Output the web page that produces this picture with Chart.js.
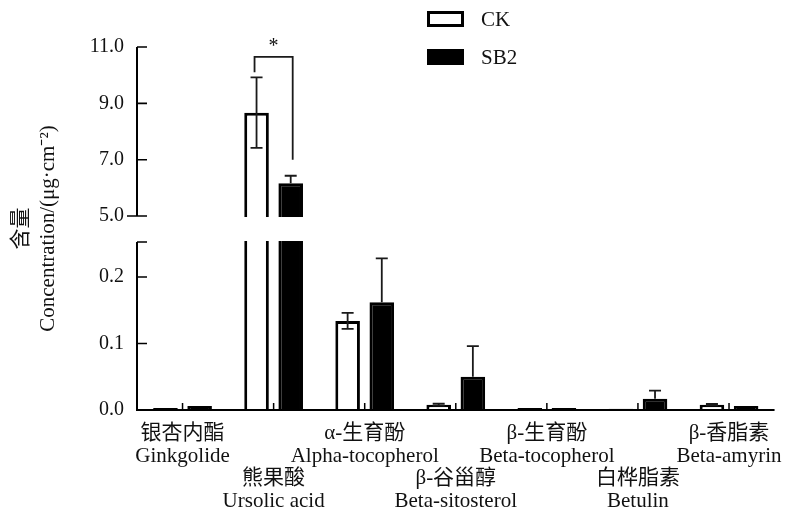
<!DOCTYPE html>
<html>
<head>
<meta charset="utf-8">
<script src="https://cdn.jsdelivr.net/npm/chart.js@4.4.1/dist/chart.umd.min.js"></script>
<style>
  html, body { margin: 0; padding: 0; background: #fff; }
  #wrap { width: 794px; height: 511px; position: relative; }
</style>
</head>
<body>
<div id="wrap"><canvas id="chart"></canvas></div>
<script>
// -------- DATA --------
const categories = [
    ["银杏内酯", "Ginkgolide"],
    ["", "", "熊果酸", "Ursolic acid"],
    ["α-生育酚", "Alpha-tocopherol"],
    ["", "", "β-谷甾醇", "Beta-sitosterol"],
    ["β-生育酚", "Beta-tocopherol"],
    ["", "", "白桦脂素", "Betulin"],
    ["β-香脂素", "Beta-amyrin"]
];
const ckValues = [0.003, 8.67, 0.134, 0.008, 0.003, 0.002, 0.008];
const ckErrors = [0, 1.25, 0.012, 0.0015, 0, 0, 0.001];
const sb2Values = [0.006, 6.16, 0.162, 0.050, 0.003, 0.017, 0.006];
const sb2Errors = [0, 0.27, 0.066, 0.046, 0, 0.012, 0];
const yTicks = [0, 0.1, 0.2, 5, 7, 9, 11];

// axis break: lower part 0..lowMax, upper part highMin..highMax
const lowMax = 0.2526;
const highMin = 5;
const highMax = 11;

// significance bracket (*), on Ursolic acid
const sigIndex = 1;
const sigLabel = "*";
const sigTop = 10.65;
const sigLeftEnd = 10.1;
const sigRightEnd = 7.0;

const FONT = "'Liberation Serif', 'Noto Sans CJK SC', serif";
const INK = "#111";

// -------- BROKEN SCALE --------
// share of plot height used by the lower / upper parts
const LOW_FRAC = 0.4628;
const HIGH_FRAC = 0.4656;

class BrokenScale extends Chart.LinearScale {
    buildTicks() {
        this.min = 0;
        this.max = highMax;
        this.start = 0;
        this.end = highMax;
        return yTicks.map(v => ({ value: v }));
    }
    getPixelForValue(v) {
        const h = this.bottom - this.top;
        const lowTop = this.bottom - LOW_FRAC * h;
        const highBottom = this.top + HIGH_FRAC * h;
        if (v <= lowMax) return this.bottom - (v / lowMax) * (LOW_FRAC * h);
        if (v < highMin) return lowTop - (v - lowMax) / (highMin - lowMax) * (lowTop - highBottom);
        const f = Math.min(1, (v - highMin) / (highMax - highMin));
        return highBottom - f * (HIGH_FRAC * h);
    }
    getValueForPixel(p) {
        const h = this.bottom - this.top;
        const lowTop = this.bottom - LOW_FRAC * h;
        if (p >= lowTop) return (this.bottom - p) / (LOW_FRAC * h) * lowMax;
        return highMin + (this.top + HIGH_FRAC * h - p) / (HIGH_FRAC * h) * (highMax - highMin);
    }
}
BrokenScale.id = "broken";
BrokenScale.defaults = Chart.LinearScale.defaults;
Chart.register(BrokenScale);

// -------- DRAWING EXTRAS --------
const extras = {
    id: "extras",
    afterDatasetsDraw(chart) {
        const ctx = chart.ctx;
        const area = chart.chartArea;
        const y = chart.scales.y;
        const x = chart.scales.x;
        const ax = area.left;

        ctx.save();

        // white gap across the break
        const gTop = y.getPixelForValue(highMin);
        const gBot = y.getPixelForValue(lowMax);
        ctx.fillStyle = "#fff";
        ctx.fillRect(ax + 1, gTop + 1, area.right - ax, gBot - gTop - 2);

        // y axis segments
        ctx.strokeStyle = "#000";
        ctx.lineWidth = 2;
        ctx.beginPath();
        ctx.moveTo(ax, y.getPixelForValue(highMax));
        ctx.lineTo(ax, gTop);
        ctx.moveTo(ax, gBot);
        ctx.lineTo(ax, y.getPixelForValue(0));
        ctx.stroke();

        // inward ticks
        ctx.lineWidth = 1.6;
        ctx.beginPath();
        yTicks.forEach(v => {
            if (v === 0) return;
            const py = y.getPixelForValue(v);
            ctx.moveTo(v === highMin ? ax - 10 : ax, py);
            ctx.lineTo(ax + 10, py);
        });
        ctx.moveTo(ax, gBot);
        ctx.lineTo(ax + 10, gBot);
        ctx.stroke();

        // x baseline
        const base = y.getPixelForValue(0);
        ctx.lineWidth = 2;
        ctx.beginPath();
        ctx.moveTo(ax - 1, base);
        ctx.lineTo(area.right, base);
        ctx.stroke();

        // small marks at category centers
        ctx.lineWidth = 1.5;
        ctx.beginPath();
        categories.forEach((c, i) => {
            const px = x.getPixelForValue(i);
            ctx.moveTo(px, base);
            ctx.lineTo(px, base - 7);
        });
        ctx.stroke();

        // error bars (lower whisker only where it shows inside a hollow bar)
        const drawErr = (meta, vals, errs, lower) => {
            meta.data.forEach((bar, i) => {
                if (!errs[i]) return;
                const hi = y.getPixelForValue(vals[i] + errs[i]);
                const lo = lower ? y.getPixelForValue(Math.max(0, vals[i] - errs[i])) : bar.y;
                ctx.beginPath();
                ctx.moveTo(bar.x, hi);
                ctx.lineTo(bar.x, lo);
                ctx.moveTo(bar.x - 6, hi);
                ctx.lineTo(bar.x + 6, hi);
                if (lower) {
                    ctx.moveTo(bar.x - 6, lo);
                    ctx.lineTo(bar.x + 6, lo);
                }
                ctx.stroke();
            });
        };
        ctx.strokeStyle = "#1a1a1a";
        ctx.lineWidth = 1.8;
        drawErr(chart.getDatasetMeta(0), ckValues, ckErrors, true);
        drawErr(chart.getDatasetMeta(1), sb2Values, sb2Errors, false);

        // significance bracket
        const lx = chart.getDatasetMeta(0).data[sigIndex].x - 2;
        const rx = chart.getDatasetMeta(1).data[sigIndex].x + 2;
        const ty = y.getPixelForValue(sigTop);
        ctx.lineWidth = 1.8;
        ctx.beginPath();
        ctx.moveTo(lx, y.getPixelForValue(sigLeftEnd));
        ctx.lineTo(lx, ty);
        ctx.lineTo(rx, ty);
        ctx.lineTo(rx, y.getPixelForValue(sigRightEnd));
        ctx.stroke();
        ctx.fillStyle = INK;
        ctx.font = "20px " + FONT;
        ctx.textAlign = "center";
        ctx.textBaseline = "middle";
        ctx.fillText(sigLabel, (lx + rx) / 2, ty - 10);

        // legend
        const legend = [
            { label: chart.data.datasets[0].label, fill: "#fff", top: 11 },
            { label: chart.data.datasets[1].label, fill: "#000", top: 49 }
        ];
        ctx.font = "21px " + FONT;
        legend.forEach(item => {
            ctx.fillStyle = item.fill;
            ctx.fillRect(427, item.top, 37, 16);
            ctx.strokeStyle = "#000";
            ctx.lineWidth = 3;
            ctx.strokeRect(428.5, item.top + 1.5, 34, 13);
            ctx.fillStyle = INK;
            ctx.textAlign = "left";
            ctx.fillText(item.label, 481, item.top + 9);
        });

        ctx.restore();
    }
};

// -------- CHART --------
const chart = new Chart(document.getElementById("chart"), {
    type: "bar",
    data: {
        labels: categories,
        datasets: [
            {
                label: "CK",
                data: ckValues,
                backgroundColor: "#fff",
                borderColor: "#000",
                borderWidth: 3
            },
            {
                label: "SB2",
                data: sb2Values,
                backgroundColor: "#000",
                borderColor: "#000",
                borderWidth: 3
            }
        ]
    },
    options: {
        responsive: true,
        maintainAspectRatio: false,
        animation: false,
        devicePixelRatio: 1,
        categoryPercentage: 0.75,
        barPercentage: 0.72,
        layout: { padding: { top: 47, right: 7, left: 0, bottom: 0 } },
        plugins: {
            legend: { display: false },
            tooltip: { enabled: false }
        },
        scales: {
            x: {
                grid: { display: false, drawTicks: false },
                border: { display: false },
                ticks: {
                    autoSkip: false,
                    maxRotation: 0,
                    padding: 12,
                    color: INK,
                    font: { family: FONT, size: 21, lineHeight: 1.08 }
                },
                afterFit: s => { s.height = 101; }
            },
            y: {
                type: "broken",
                grid: { display: false, drawTicks: false },
                border: { display: false },
                ticks: {
                    autoSkip: false,
                    padding: 13,
                    color: INK,
                    font: { family: FONT, size: 20 },
                    callback: v => v.toFixed(1)
                },
                title: {
                    display: true,
                    text: ["含量", "Concentration/(μg·cm⁻²)"],
                    color: INK,
                    font: { family: FONT, size: 21, lineHeight: 1.3 },
                    padding: { top: 8, bottom: 0 }
                },
                afterFit: s => { s.width = 137; }
            }
        }
    },
    plugins: [extras]
});
</script>
</body>
</html>
